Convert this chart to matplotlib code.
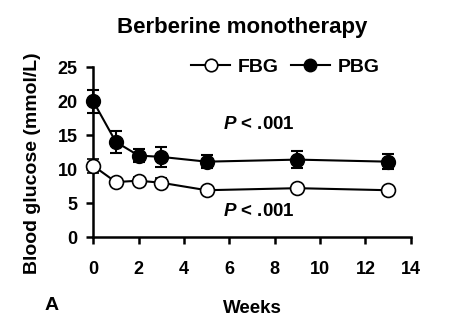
import matplotlib
matplotlib.use("Agg")
import matplotlib.pyplot as plt
from matplotlib.lines import Line2D

plt.rcParams['font.family'] = ['Liberation Sans', 'DejaVu Sans']
plt.rcParams['font.weight'] = 'bold'
plt.rcParams['mathtext.fontset'] = 'custom'
plt.rcParams['mathtext.bfit'] = 'Liberation Sans:italic:bold'
plt.rcParams['mathtext.it'] = 'Liberation Sans:italic'
plt.rcParams['mathtext.rm'] = 'Liberation Sans'

weeks = [0, 1, 2, 3, 5, 9, 13]
fbg = [10.5, 8.1, 8.3, 8.0, 6.9, 7.2, 6.9]
fbg_err = [1.0, 0.5, 0.6, 0.7, 0.4, 0.5, 0.5]
pbg = [20.0, 14.0, 12.0, 11.8, 11.1, 11.4, 11.1]
pbg_err = [1.7, 1.6, 0.9, 1.5, 1.0, 1.2, 1.1]

xticks = [0, 2, 4, 6, 8, 10, 12, 14]
yticks = [0, 5, 10, 15, 20, 25]

fig = plt.figure(figsize=(4.5, 3.34), dpi=100)
ax = fig.add_axes([0.207, 0.290, 0.706, 0.509])

ax.errorbar(weeks, pbg, yerr=pbg_err, color='black', marker='o', ms=10,
            mfc='black', mec='black', lw=1.5, elinewidth=1.5, capsize=4,
            capthick=1.5, clip_on=False, zorder=3)
ax.errorbar(weeks, fbg, yerr=fbg_err, color='black', marker='o', ms=10,
            mfc='white', mec='black', mew=1.2, lw=1.5, elinewidth=1.5,
            capsize=4, capthick=1.5, clip_on=False, zorder=4)

ax.set_xlim(0, 14)
ax.set_ylim(0, 25)
ax.set_xticks(xticks)
ax.set_yticks(yticks)
ax.spines['top'].set_visible(False)
ax.spines['right'].set_visible(False)
for s in ['left', 'bottom']:
    ax.spines[s].set_linewidth(1.8)
ax.tick_params(direction='out', length=5, width=1.8, labelsize=13, pad=6)
ax.tick_params(axis='x', pad=12)

ax.set_xlabel('Weeks', fontsize=13.5, fontweight='bold', labelpad=16)
ax.set_ylabel('Blood glucose (mmol/L)', fontsize=14, fontweight='bold', labelpad=12)
ax.yaxis.label.set_y(0.435)

ax.text(7.3, 16.6, r'$\mathbfit{P}$ < .001', fontsize=13.5, fontweight='bold',
        ha='center', va='center')
ax.text(7.3, 3.8, r'$\mathbfit{P}$ < .001', fontsize=13.5, fontweight='bold',
        ha='center', va='center')

# legend handles without the error bars
h_fbg = Line2D([], [], color='black', lw=1.5, marker='o', ms=9,
               mfc='white', mec='black', mew=1.2)
h_pbg = Line2D([], [], color='black', lw=1.5, marker='o', ms=9,
               mfc='black', mec='black')
ax.legend([h_fbg, h_pbg], ['FBG', 'PBG'], ncol=2, frameon=False, fontsize=14,
          loc='center', bbox_to_anchor=(0.605, 1.0), handlelength=2.0,
          columnspacing=0.6, handletextpad=0.4)

fig.text(0.538, 0.919, 'Berberine monotherapy', fontsize=16, fontweight='bold',
         ha='center', va='center')
fig.text(0.115, 0.085, 'A', fontsize=14, fontweight='bold', ha='center', va='center')

fig.savefig('out.png', dpi=100)
